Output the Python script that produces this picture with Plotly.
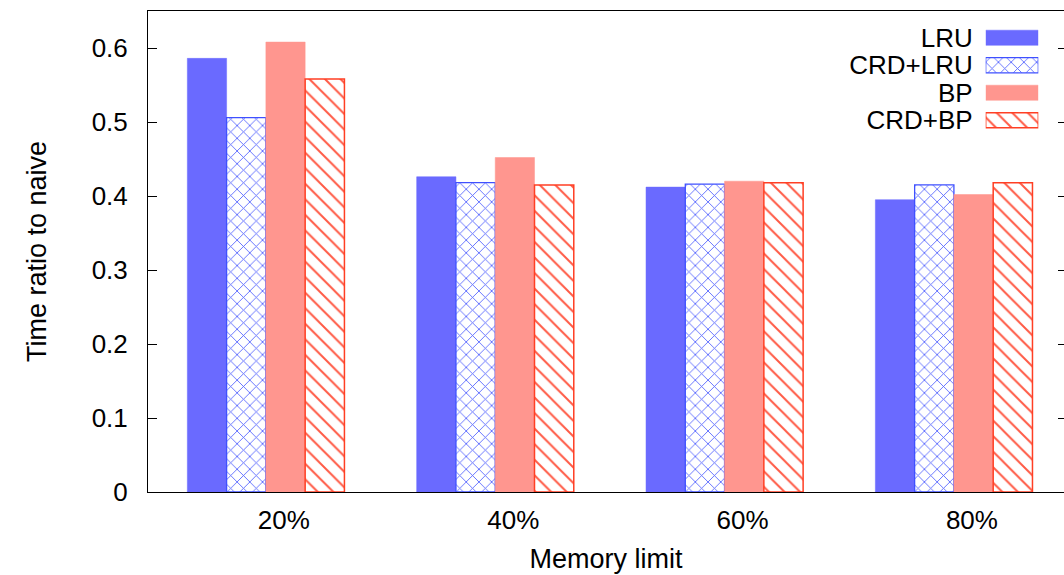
import plotly.graph_objects as go

# Memory limit settings and time ratios (relative to the naive run)
categories = ["20%", "40%", "60%", "80%"]
series_names = ["LRU", "CRD+LRU", "BP", "CRD+BP"]
lru = [0.586, 0.426, 0.412, 0.395]
crd_lru = [0.506, 0.418, 0.416, 0.415]
bp = [0.608, 0.452, 0.420, 0.402]
crd_bp = [0.558, 0.415, 0.418, 0.418]
y_ticks = [0, 0.1, 0.2, 0.3, 0.4, 0.5, 0.6]

FONT = "Liberation Sans, Arial, Helvetica, sans-serif"

# Appearance of each series
BLUE = "#6a6aff"
PINK = "#ff968f"
styles = {
    "LRU": dict(color=BLUE, line=dict(color=BLUE, width=0.5)),
    "CRD+LRU": dict(
        color="white",
        line=dict(color="#3f50ff", width=1.3),
        pattern=dict(shape="x", fgcolor="#4f5fff", bgcolor="white",
                     size=9, solidity=0.18, fillmode="replace"),
    ),
    "BP": dict(color=PINK, line=dict(color=PINK, width=0.5)),
    "CRD+BP": dict(
        color="white",
        line=dict(color="#ff3f24", width=1.5),
        pattern=dict(shape="\\", fgcolor="#ff5a45", bgcolor="white",
                     size=11, solidity=0.18, fillmode="replace"),
    ),
}
values = {"LRU": lru, "CRD+LRU": crd_lru, "BP": bp, "CRD+BP": crd_bp}

fig = go.Figure()

# Grouped bars
for name in series_names:
    fig.add_trace(go.Bar(
        x=categories, y=values[name], name=name,
        marker=styles[name], xaxis="x", yaxis="y",
        hoverinfo="skip",
    ))

# Key in the upper right: label on the left, swatch on the right
for name in series_names:
    fig.add_trace(go.Bar(
        x=[1], y=[name], base=0, orientation="h",
        width=0.55, offset=-0.275,
        marker=styles[name], xaxis="x2", yaxis="y2",
        hoverinfo="skip",
    ))

W, H = 1064, 575
ML, MR, MT, MB = 148, 0, 11, 83
pw = W - ML - MR
ph = H - MT - MB


def px_x(px):
    return (px - ML) / pw


def px_y(py):
    return 1 - (py - MT) / ph


fig.update_layout(
    width=W, height=H,
    margin=dict(l=ML, r=MR, t=MT, b=MB),
    paper_bgcolor="white", plot_bgcolor="white",
    showlegend=False,
    barmode="group", bargap=0.315, bargroupgap=0,
    font=dict(family=FONT, size=26, color="black"),
    xaxis=dict(
        range=[-0.514, 3.48],
        showline=True, linecolor="black", linewidth=1, mirror=True,
        ticks="", showgrid=False, zeroline=False,
        ticklabelshift=18, ticklabelstandoff=5,
        tickfont=dict(size=26),
        title=dict(text="Memory limit", font=dict(size=27), standoff=14),
    ),
    yaxis=dict(
        range=[0, 0.65],
        tickvals=y_ticks, ticktext=[f"{v:g}" for v in y_ticks],
        showline=True, linecolor="black", linewidth=1, mirror=False,
        ticks="inside", ticklen=9, tickcolor="black", tickwidth=1,
        showgrid=False, zeroline=False,
        ticklabelstandoff=14,
        tickfont=dict(size=26),
        title=dict(text="Time ratio to naive", font=dict(size=27), standoff=37),
    ),
    yaxis3=dict(
        range=[0, 0.65], overlaying="y", side="right", anchor="x",
        tickvals=y_ticks, showticklabels=False,
        ticks="inside", ticklen=6, tickcolor="black", tickwidth=1,
        showline=False, showgrid=False, zeroline=False,
    ),
    xaxis2=dict(
        domain=[px_x(985.7), px_x(1038.3)], anchor="y2",
        range=[0, 1], visible=False, fixedrange=True,
    ),
    yaxis2=dict(
        domain=[px_y(134), px_y(24)], anchor="x2",
        type="category", categoryorder="array", categoryarray=series_names,
        tickmode="array", tickvals=series_names, ticktext=series_names,
        range=[3.5, -0.5],
        showline=False, showgrid=False, zeroline=False, ticks="",
        ticklabelstandoff=12,
        tickfont=dict(size=26),
    ),
)

# Invisible trace so the right-hand tick axis is drawn
fig.add_trace(go.Scatter(x=[categories[0]], y=[0], yaxis="y3", xaxis="x",
                         mode="markers", marker=dict(opacity=0),
                         hoverinfo="skip", showlegend=False))

fig.write_html("out.html")
